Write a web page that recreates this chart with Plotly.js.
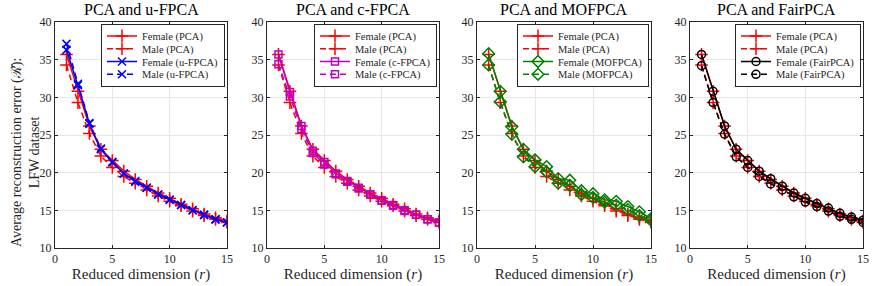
<!DOCTYPE html>
<html><head><meta charset="utf-8">
<script src="https://cdn.plot.ly/plotly-3.0.1.min.js"></script>
<style>html,body{margin:0;padding:0;background:#fff}#chart{width:872px;height:286px}</style>
</head><body><div id="chart"></div>
<script>
const dims = [1,2,3,4,5,6,7,8,9,10,11,12,13,14,15];
const pcaFemale = [35.7,30.8,26.2,23.1,21.6,20.2,19.1,18.2,17.3,16.6,15.8,15.2,14.5,14.0,13.6];
const pcaMale   = [34.3,29.3,25.2,22.2,20.7,19.5,18.6,17.7,16.9,16.2,15.6,14.9,14.3,13.8,13.4];
const ufpcaFemale = [36.3,31.6,26.5,23.1,21.4,19.9,18.8,18.0,17.1,16.4,15.7,15.0,14.4,13.8,13.4];
const ufpcaMale   = [37.1,31.8,26.6,23.2,21.4,19.9,18.9,18.0,17.1,16.4,15.7,15.0,14.4,13.8,13.4];
const cfpcaFemale = [35.7,30.7,26.2,22.9,21.4,19.9,18.9,18.0,17.1,16.3,15.7,15.0,14.4,13.8,13.4];
const cfpcaMale   = [34.4,30.1,25.8,22.6,21.1,19.8,18.8,17.9,17.1,16.3,15.6,14.9,14.4,13.8,13.4];
const mofpcaFemale = [35.8,30.8,26.1,23.1,21.7,20.8,19.2,19.0,17.6,17.2,16.4,16.2,15.5,14.8,13.9];
const mofpcaMale   = [34.3,29.4,25.1,22.1,20.8,20.1,18.6,18.3,17.1,16.7,16.1,15.7,15.1,14.3,13.7];
const fairFemale = [35.7,30.8,26.2,23.1,21.6,20.2,19.2,18.2,17.3,16.6,15.9,15.3,14.6,14.1,13.7];
const fairMale   = [34.2,29.3,25.1,22.1,20.7,19.5,18.5,17.7,16.8,16.1,15.5,14.9,14.2,13.8,13.4];
const methods = ['u-FPCA','c-FPCA','MOFPCA','FairPCA'];
const titles = ['PCA and u-FPCA','PCA and c-FPCA','PCA and MOFPCA','PCA and FairPCA'];
const methodFemale = [ufpcaFemale, cfpcaFemale, mofpcaFemale, fairFemale];
const methodMale = [ufpcaMale, cfpcaMale, mofpcaMale, fairMale];

const colors = ['#0000ff','#c000c0','#008000','#000000'];
const symbols = ['x-thin-open','square-open','diamond-open','circle-open'];
const msizes = [8,7,9,8];
const domains = [[55/872,227/872],[267/872,439/872],[477/872,651/872],[690/872,863/872]];
const FONT = 'Liberation Serif';

const traces = [];
const layout = {
  width: 872, height: 286,
  margin: {l:0, r:0, t:22, b:38},
  paper_bgcolor: '#fff', plot_bgcolor: '#fff',
  font: {family: FONT, size: 12, color: '#262626', weight: 'normal'},
  annotations: [], showlegend: true
};
for (let i = 0; i < 4; i++) {
  const xa = i === 0 ? 'x' : 'x' + (i+1);
  const ya = i === 0 ? 'y' : 'y' + (i+1);
  const lg = i === 0 ? 'legend' : 'legend' + (i+1);
  const mk = (name, y, color, dash, symbol, size) => ({
    type: 'scatter', mode: 'lines+markers', x: dims, y: y, name: name,
    xaxis: xa, yaxis: ya, legend: lg,
    line: {color: color, width: 1.5, dash: dash},
    marker: {symbol: symbol, size: size, color: color, line: {color: color, width: 1.5}}
  });
  traces.push(mk('Female (PCA)', pcaFemale, '#ff0000', 'solid', 'cross-thin-open', 9));
  traces.push(mk('Male (PCA)', pcaMale, '#ff0000', '6px,4px', 'cross-thin-open', 9));
  traces.push(mk('Female (' + methods[i] + ')', methodFemale[i], colors[i], 'solid', symbols[i], msizes[i]));
  traces.push(mk('Male (' + methods[i] + ')', methodMale[i], colors[i], '6px,4px', symbols[i], msizes[i]));
  const axBase = {
    showline: true, mirror: 'ticks', linecolor: '#262626', linewidth: 1,
    ticks: 'inside', ticklen: 3, tickcolor: '#262626',
    showgrid: true, gridcolor: '#e6e6e6', gridwidth: 1, zeroline: false,
    tickfont: {family: FONT, size: 12, color: '#262626', weight: 'normal'}
  };
  layout[i === 0 ? 'xaxis' : 'xaxis' + (i+1)] = Object.assign({}, axBase, {
    domain: domains[i], anchor: ya, range: [0, 15], tickvals: [0,5,10,15],
    title: {text: 'Reduced dimension (<i>r</i>)', font: {family: FONT, size: 15, color: '#262626', weight: 'normal'}, standoff: 3}
  });
  layout[i === 0 ? 'yaxis' : 'yaxis' + (i+1)] = Object.assign({}, axBase, {
    domain: [0, 1], anchor: xa, range: [10, 40], tickvals: [10,15,20,25,30,35,40]
  });
  layout[lg] = {
    x: domains[i][1] - 2/872, xanchor: 'right', y: 1 - 1.5/226, yanchor: 'top',
    bgcolor: '#fff', bordercolor: '#262626', borderwidth: 1,
    font: {family: FONT, size: 10.5, color: '#262626', weight: 'normal'},
    tracegroupgap: 0, itemwidth: 30
  };
  layout.annotations.push({
    text: titles[i], xref: 'paper', yref: 'paper',
    x: (domains[i][0] + domains[i][1]) / 2, y: 1, yshift: 2,
    xanchor: 'center', yanchor: 'bottom', showarrow: false,
    font: {family: FONT, size: 16, color: '#000', weight: 'normal'}
  });
}
layout.annotations.push({
  text: 'Average reconstruction error (ℛ̄):<br>LFW dataset',
  xref: 'paper', yref: 'paper', x: 25/872, y: 0.42, xanchor: 'center', yanchor: 'middle',
  textangle: -90, showarrow: false, font: {family: FONT, size: 14, color: '#262626', weight: 'normal'}
});
Plotly.newPlot('chart', traces, layout, {displayModeBar: false, staticPlot: true}).then(gd => {
  // tighten legend row spacing to match the compact reference legends
  const STEP = 12.8;
  gd.querySelectorAll('.infolayer > g').forEach(g => {
    const cls = g.getAttribute('class') || '';
    if (!/^legend\d*$/.test(cls)) return;
    const items = Array.from(g.querySelectorAll('g.traces'));
    if (items.length < 2) return;
    const parse = el => {
      const m = /translate\(\s*([-\d.]+)[ ,]+([-\d.]+)\s*\)/.exec(el.getAttribute('transform') || '');
      return m ? [parseFloat(m[1]), parseFloat(m[2])] : [0, 0];
    };
    const p0 = parse(items[0]), p1 = parse(items[1]);
    const h = p1[1] - p0[1];
    const start = p0[1] - (h - STEP) / 2;
    items.forEach((el, k) => {
      const p = parse(el);
      el.setAttribute('transform', 'translate(' + p[0] + ',' + (start + k * STEP) + ')');
    });
    const shrink = items.length * (h - STEP);
    g.querySelectorAll('rect.bg').forEach(r => {
      r.setAttribute('height', parseFloat(r.getAttribute('height')) - shrink);
    });
  });
});
</script></body></html>
